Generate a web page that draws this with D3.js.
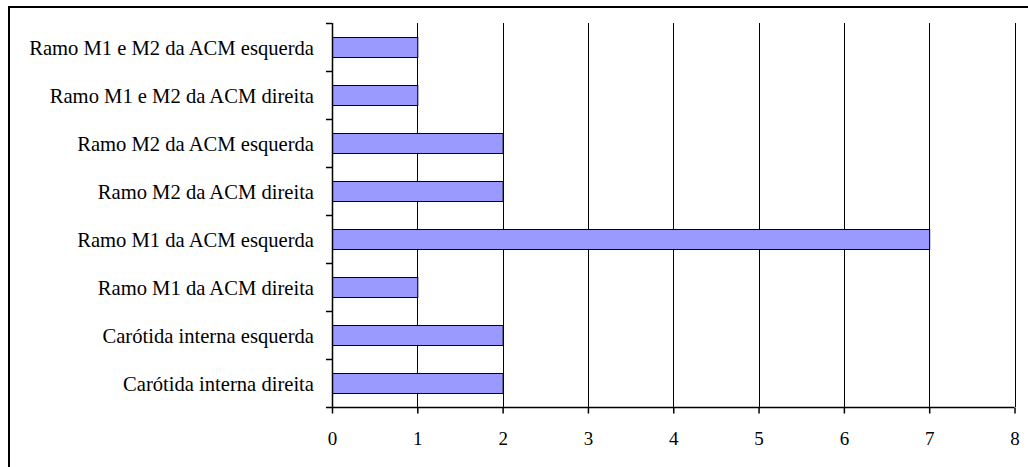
<!DOCTYPE html>
<html>
<head>
<meta charset="utf-8">
<script src="https://cdn.jsdelivr.net/npm/d3@7"></script>
<style>
  html, body { margin: 0; padding: 0; background: #fff; overflow: hidden; }
  svg { display: block; }
  text { font-family: "Liberation Serif", "Times New Roman", serif; fill: #000; }
</style>
</head>
<body>
<svg id="chart" width="1028" height="467"></svg>
<script>
const categories = [
  "Ramo M1 e M2 da ACM esquerda",
  "Ramo M1 e M2 da ACM direita",
  "Ramo M2 da ACM esquerda",
  "Ramo M2 da ACM direita",
  "Ramo M1 da ACM esquerda",
  "Ramo M1 da ACM direita",
  "Carótida interna esquerda",
  "Carótida interna direita"
];
const values = [1, 1, 2, 2, 7, 1, 2, 2];
const xTicks = [0, 1, 2, 3, 4, 5, 6, 7, 8];

const FONT = "'Liberation Serif', 'Times New Roman', serif";
const svg = d3.select("#chart");
const plot = { left: 332, right: 1014.5, top: 23, bottom: 407 };

// outer frame (right/bottom edges fall outside the view)
svg.append("rect")
  .attr("x", 9).attr("y", 7)
  .attr("width", 1030).attr("height", 470)
  .attr("fill", "none").attr("stroke", "#000").attr("stroke-width", 2);

const x = d3.scaleLinear().domain([0, 8]).range([plot.left, plot.right]);
const y = d3.scaleBand().domain(categories).range([plot.top, plot.bottom]).paddingInner(0).paddingOuter(0);

// vertical gridlines
svg.append("g").selectAll("line")
  .data(xTicks.filter(d => d > 0))
  .join("line")
  .attr("x1", d => Math.round(x(d)) + 0.5).attr("x2", d => Math.round(x(d)) + 0.5)
  .attr("y1", plot.top).attr("y2", plot.bottom)
  .attr("stroke", "#000").attr("stroke-width", 1);

// bars
const barH = 20;
svg.append("g").selectAll("rect")
  .data(categories)
  .join("rect")
  .attr("x", plot.left + 0.5)
  .attr("y", (d) => Math.round(y(d) + y.bandwidth() / 2 - barH / 2) + 0.5)
  .attr("width", (d, i) => x(values[i]) - plot.left)
  .attr("height", barH)
  .attr("fill", "#9999ff")
  .attr("stroke", "#000")
  .attr("stroke-width", 1);

// y axis line + ticks at band boundaries
const yLineX = plot.left + 0.5;
svg.append("line")
  .attr("x1", yLineX).attr("x2", yLineX)
  .attr("y1", plot.top).attr("y2", plot.bottom)
  .attr("stroke", "#000").attr("stroke-width", 1.5);
const boundaries = categories.map(c => y(c)).concat([plot.bottom]);
svg.append("g").selectAll("line")
  .data(boundaries)
  .join("line")
  .attr("x1", plot.left - 6).attr("x2", plot.left)
  .attr("y1", d => Math.round(d) + 0.5).attr("y2", d => Math.round(d) + 0.5)
  .attr("stroke", "#000").attr("stroke-width", 1.5);

// category labels
svg.append("g").selectAll("text")
  .data(categories)
  .join("text")
  .attr("x", 314)
  .attr("y", d => y(d) + y.bandwidth() / 2 + 8)
  .attr("text-anchor", "end")
  .attr("font-family", FONT)
  .attr("font-size", 20.6)
  .text(d => d);

// x axis
const xAxis = d3.axisBottom(x).tickValues(xTicks).tickSize(6).tickPadding(0).tickFormat(d3.format("d"));
const gx = svg.append("g")
  .attr("transform", `translate(0,${plot.bottom + 0.5})`)
  .call(xAxis)
  .attr("font-family", FONT);
gx.select(".domain").attr("stroke", "#000").attr("stroke-width", 1.5).attr("d", `M${plot.left},0H${plot.right}`);
gx.selectAll(".tick line").attr("stroke", "#000").attr("stroke-width", 1.5);
gx.selectAll(".tick text")
  .attr("y", 37.5).attr("dy", null)
  .attr("font-size", 19)
  .attr("font-family", FONT)
  .attr("fill", "#000");
</script>
</body>
</html>
